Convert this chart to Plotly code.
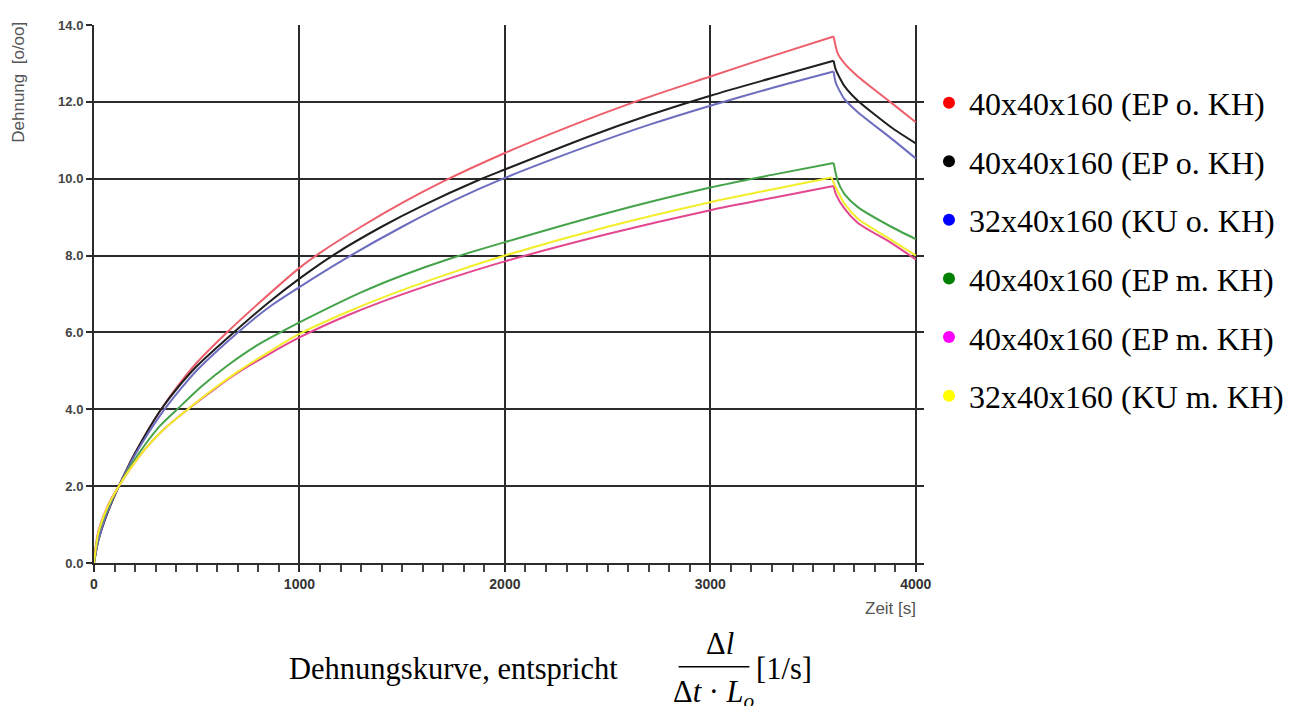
import plotly.graph_objects as go

# ---------------- data ----------------
series_names = [
    "40x40x160 (EP o. KH)",
    "40x40x160 (EP o. KH)",
    "32x40x160 (KU o. KH)",
    "40x40x160 (EP m. KH)",
    "40x40x160 (EP m. KH)",
    "32x40x160 (KU m. KH)",
]

t_red = [0, 20, 50, 80, 121, 160, 200, 260, 327, 410, 500, 647, 800, 1000, 1100, 1300, 1500, 1700, 2000, 2300,
         2670, 3000, 3300, 3600, 3620, 3653, 3718, 3880, 4000]
e_red = [0, 0.57, 1.08, 1.5, 2.0, 2.44, 2.86, 3.43, 4.0, 4.62, 5.21, 6.0, 6.75, 7.68, 8.07, 8.75, 9.37, 9.93, 10.67,
         11.33, 12.07, 12.66, 13.19, 13.7, 13.26, 13.0, 12.66, 11.98, 11.47]

t_black = [0, 20, 50, 80, 121, 160, 200, 260, 327, 410, 500, 680, 850, 1000, 1167, 1400, 1600, 1870, 2000, 2400,
           2700, 3000, 3300, 3600, 3611, 3653, 3718, 3880, 4000]
e_black = [0, 0.57, 1.08, 1.5, 2.0, 2.44, 2.86, 3.43, 4.0, 4.58, 5.12, 6.0, 6.78, 7.4, 8.02, 8.75, 9.3, 9.96, 10.24,
           11.08, 11.65, 12.16, 12.62, 13.07, 12.83, 12.41, 12.03, 11.34, 10.92]

t_blue = [0, 20, 50, 80, 121, 160, 200, 270, 343, 420, 500, 700, 850, 1000, 1230, 1500, 1750, 2000, 2400, 2700,
          3000, 3300, 3600, 3611, 3653, 3718, 3880, 4000]
e_blue = [0, 0.55, 1.11, 1.52, 2.0, 2.42, 2.82, 3.43, 4.0, 4.52, 5.01, 6.0, 6.65, 7.18, 7.94, 8.75, 9.43, 10.02,
          10.84, 11.4, 11.9, 12.36, 12.79, 12.49, 12.07, 11.73, 11.05, 10.53]

t_green = [0, 20, 50, 80, 121, 180, 250, 320, 405, 520, 650, 780, 907, 1000, 1300, 1500, 1728, 2000, 2500, 3000,
           3300, 3600, 3620, 3653, 3718, 3880, 4000]
e_green = [0, 0.71, 1.21, 1.58, 2.0, 2.54, 3.09, 3.56, 4.0, 4.58, 5.14, 5.62, 6.0, 6.26, 7.04, 7.48, 7.91, 8.35,
           9.11, 9.77, 10.1, 10.41, 9.94, 9.6, 9.26, 8.75, 8.43]

t_magenta = [0, 20, 50, 80, 121, 180, 250, 330, 457, 580, 700, 850, 1000, 1250, 1500, 1750, 2000, 2500, 3000,
             3300, 3600, 3611, 3653, 3718, 3880, 4000]
e_magenta = [0.1, 0.8, 1.27, 1.63, 2.0, 2.48, 2.97, 3.43, 4.0, 4.5, 4.95, 5.43, 5.87, 6.48, 6.99, 7.44, 7.85,
             8.56, 9.18, 9.5, 9.81, 9.6, 9.22, 8.85, 8.33, 7.9]

t_yellow = [0, 20, 50, 80, 121, 180, 250, 330, 457, 580, 700, 850, 1000, 1250, 1500, 1750, 2000, 2500, 3000,
            3300, 3590, 3611, 3653, 3718, 3880, 4000]
e_yellow = [0, 0.76, 1.25, 1.61, 2.0, 2.48, 2.97, 3.43, 4.0, 4.52, 4.98, 5.49, 5.96, 6.57, 7.1, 7.57, 8.0,
            8.75, 9.39, 9.72, 10.03, 9.77, 9.35, 8.96, 8.41, 8.0]

line_colors = ["#ee5f6c", "#1f1f1f", "#6d6dc0", "#45a34a", "#e2478f", "#f2ee2a"]
legend_colors = ["#ff0000", "#000000", "#0000ff", "#008000", "#ff00ff", "#ffff00"]

x_ticks = [0, 1000, 2000, 3000, 4000]
y_ticks = [0, 2, 4, 6, 8, 10, 12, 14]

all_t = [t_red, t_black, t_blue, t_green, t_magenta, t_yellow]
all_e = [e_red, e_black, e_blue, e_green, e_magenta, e_yellow]

# ---------------- geometry (screen pixels; page body adds an 8px offset) ----------------
OFF = 8
W, H = 1299 - OFF, 706 - OFF
L, R, T, B = 94, 926, 18, 563   # plot area in screen pixels


def px(xs):
    return (xs - L) / (R - L)


def py(ys):
    return (B - ys) / (B - T)


fig = go.Figure()

for i, (t, e) in enumerate(zip(all_t, all_e)):
    k = e.index(max(e))  # end of loading phase
    fig.add_trace(go.Scatter(x=t[:k + 1], y=e[:k + 1], mode="lines",
                             line=dict(color=line_colors[i], width=2, shape="spline", smoothing=0.8),
                             showlegend=False, hoverinfo="skip"))
    fig.add_trace(go.Scatter(x=t[k:], y=e[k:], mode="lines",
                             line=dict(color=line_colors[i], width=2, shape="spline", smoothing=0.6),
                             showlegend=False, hoverinfo="skip"))

for i, name in enumerate(series_names):
    fig.add_trace(go.Scatter(x=[None], y=[None], mode="markers", name=name,
                             marker=dict(color=legend_colors[i], size=10),
                             legendgroup=f"g{i}", showlegend=True))

grid_col = "#2b2b2b"
fig.update_xaxes(range=[0, 4040], tickvals=x_ticks, showgrid=True, gridcolor=grid_col, gridwidth=2,
                 showline=True, linecolor=grid_col, linewidth=2, zeroline=False,
                 ticks="outside", ticklen=7, tickwidth=2, tickcolor=grid_col,
                 minor=dict(dtick=100, tick0=0, ticks="outside", ticklen=7, tickwidth=2,
                            tickcolor="#444", showgrid=False),
                 tickfont=dict(family="Arial, Liberation Sans", size=14, color="#333", weight="bold"))
fig.update_yaxes(range=[0, 14], tickvals=y_ticks, tickformat=".1f", showgrid=True, gridcolor=grid_col,
                 gridwidth=2, showline=True, linecolor=grid_col, linewidth=2, zeroline=False,
                 ticks="outside", ticklen=6, tickwidth=2, tickcolor=grid_col,
                 tickfont=dict(family="Arial, Liberation Sans", size=13, color="#444", weight="bold"))

serif = "Liberation Serif, Times New Roman, serif"
annotations = [
    dict(text="Dehnung  [o/oo]", textangle=-90, x=px(18), y=py(13), xanchor="center", yanchor="top",
         font=dict(family="Arial, Liberation Sans", size=17, color="#555")),
    dict(text="Zeit [s]", x=px(920), y=py(609), xanchor="right", yanchor="middle",
         font=dict(family="Arial, Liberation Sans", size=17, color="#555")),
    dict(text="Dehnungskurve, entspricht", x=px(287), y=py(670), xanchor="left", yanchor="middle",
         font=dict(family=serif, size=30.5, color="#000")),
    dict(text="Δ<i>l</i>", x=px(722), y=py(645), xanchor="center", yanchor="middle",
         font=dict(family=serif, size=30.5, color="#000")),
    dict(text="Δ<i>t</i> · <i>L<sub>o</sub></i>", x=px(715), y=py(696), xanchor="center", yanchor="middle",
         font=dict(family=serif, size=30.5, color="#000")),
    dict(text="[1/s]", x=px(756), y=py(670), xanchor="left", yanchor="middle",
         font=dict(family=serif, size=30.5, color="#000")),
]
for a in annotations:
    a.update(xref="paper", yref="paper", showarrow=False)

fig.update_layout(
    width=W, height=H,
    margin=dict(l=L - OFF, r=W - (R - OFF), t=T - OFF, b=H - (B - OFF), pad=0),
    paper_bgcolor="white", plot_bgcolor="white",
    annotations=annotations,
    shapes=[dict(type="line", xref="paper", yref="paper", x0=px(680), x1=px(751), y0=py(668), y1=py(668),
                 line=dict(color="#000", width=1.5))],
    legend=dict(x=px(931), y=py(69), xanchor="left", yanchor="top", traceorder="grouped",
                tracegroupgap=14, font=dict(family=serif, size=32, color="#000"),
                bgcolor="rgba(0,0,0,0)", itemsizing="constant"),
)

fig.write_html("out.html")
